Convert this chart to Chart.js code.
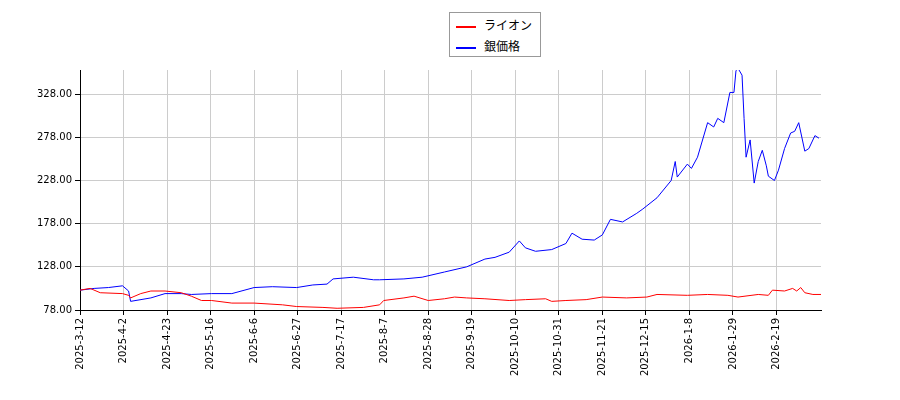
<!DOCTYPE html><html><head><meta charset="utf-8">
<script src="https://cdn.jsdelivr.net/npm/chart.js@4"></script>
<style>body{margin:0;width:900px;height:400px;background:#fff;position:relative;font-family:"DejaVu Sans"}
#lg{position:absolute;left:449px;top:12px;width:90px;height:43px;border:1px solid #999;background:#fff;font-size:12px;font-family:"Noto Sans CJK JP"}
#lg div{height:19px;line-height:19px;margin-top:2px;padding-left:6px}
#lg span{display:inline-block;width:20px;height:0;border-top:2px solid;vertical-align:middle;margin-right:8px}
</style></head><body>
<canvas id="c" width="900" height="400"></canvas>
<div id="lg"><div><span style="border-color:red"></span>ライオン</div><div><span style="border-color:blue"></span>銀価格</div></div>
<script>
const tickDays=[0,21.5,43,64.5,86,107.5,129,150.5,172,193.5,215,236.5,258,279.5,301,322.5,344];
const tickLabels=["2025-3-12","2025-4-2","2025-4-23","2025-5-16","2025-6-6","2025-6-27","2025-7-17","2025-8-7","2025-8-28","2025-9-19","2025-10-10","2025-10-31","2025-11-21","2025-12-15","2026-1-8","2026-1-29","2026-2-19"];
const yTicks=[78,128,178,228,278,328];
const silverDays=[0,7,14,21,24,25,35,42,50,55,65,75,86,95,107,115,122,125,135,145,148,160,169,180,191,200,205,212,217,220,225,233,240,243,248,254,258,262,268,275,278,285,292,294,295,300,302,305,310,313,315,318,321,323,324,325,327,328,329,331,333,335,337,339,340,343,345,348,351,353,355,358,360,363,365];
const silverVals=[101,103,104,106,100,88,92,97,97,96,97,97,104,105,104,107,108,114,116,113,113,114,116,122,128,137,139,145,158,150,146,148,155,167,160,159,165,183,180,190,195,208,228,250,232,247,242,255,295,290,300,295,330,330,355,358,350,300,255,275,225,250,263,245,233,228,240,265,283,285,295,262,265,280,277];
const lionDays=[0,5,10,21,24,25,30,35,42,50,55,60,65,75,86,100,107,120,127,140,148,150,160,165,172,180,185,191,200,212,220,230,233,240,250,258,270,280,285,300,310,320,325,335,340,342,348,352,354,356,358,362,366];
const lionVals=[101,103,98,97,95,92,97,100,100,98,94,89,89,86,86,84,82,81,80,81,84,89,92,94,89,91,93,92,91,89,90,91,88,89,90,93,92,93,96,95,96,95,93,96,95,101,100,103,100,104,98,96,96];
const pts=(d,v)=>d.map((x,i)=>({x,y:v[i]}));
new Chart(document.getElementById('c'),{type:'line',
data:{datasets:[
{data:pts(lionDays,lionVals),borderColor:'red',borderWidth:1,pointRadius:0,tension:0},
{data:pts(silverDays,silverVals),borderColor:'blue',borderWidth:1,pointRadius:0,tension:0}]},
options:{responsive:false,animation:false,plugins:{legend:{display:false},tooltip:{enabled:false}},
layout:{padding:{left:0,right:79,top:70,bottom:0}},
scales:{
x:{type:'linear',min:0,max:366,afterFit:s=>{s.height=90},
afterBuildTicks:s=>{s.ticks=tickDays.map(v=>({value:v}))},
grid:{color:'#ccc',tickLength:5,tickColor:'#000'},border:{color:'#000'},
ticks:{autoSkip:false,maxRotation:90,minRotation:90,color:'#000',font:{family:'DejaVu Sans',size:10},callback:v=>tickLabels[tickDays.indexOf(v)]}},
y:{min:78,max:356,afterFit:s=>{s.width=80},
afterBuildTicks:s=>{s.ticks=yTicks.map(v=>({value:v}))},
grid:{color:'#ccc',tickLength:5,tickColor:'#000'},border:{color:'#000'},
ticks:{color:'#000',font:{family:'DejaVu Sans',size:10},callback:v=>v.toFixed(2)}}}}});
</script></body></html>
